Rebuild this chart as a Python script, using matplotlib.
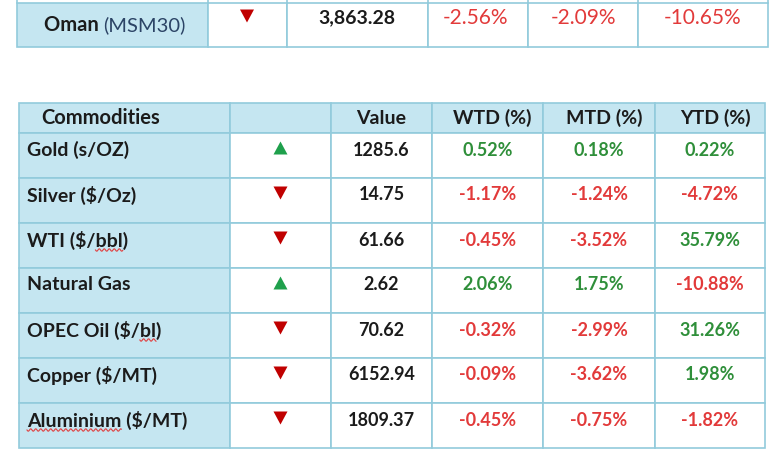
import matplotlib
matplotlib.use('Agg')
import matplotlib.pyplot as plt
from matplotlib.patches import Rectangle, Polygon
import numpy as np

# ---- data ----
oman_name = 'Oman'
oman_index = '(MSM30)'
oman_dir = 'down'
oman_value = '3,863.28'
oman_pct = ['-2.56%', '-2.09%', '-10.65%']

headers = ['Commodities', '', 'Value', 'WTD (%)', 'MTD (%)', 'YTD (%)']
commodities = ['Gold (s/OZ)', 'Silver ($/Oz)', 'WTI ($/bbl)', 'Natural Gas',
               'OPEC Oil ($/bl)', 'Copper ($/MT)', 'Aluminium ($/MT)']
direction = ['up', 'down', 'down', 'up', 'down', 'down', 'down']
values = ['1285.6', '14.75', '61.66', '2.62', '70.62', '6152.94', '1809.37']
wtd = [0.52, -1.17, -0.45, 2.06, -0.32, -0.09, -0.45]
mtd = [0.18, -1.24, -3.52, 1.75, -2.99, -3.62, -0.75]
ytd = [0.22, -4.72, 35.79, -10.88, 31.26, 1.98, -1.82]
# words flagged by the spell checker (red wavy underline)
squiggle = {'WTI ($/bbl)': 'bbl', 'OPEC Oil ($/bl)': 'bl', 'Aluminium ($/MT)': 'Aluminium'}

# ---- layout (pixels) ----
W, H = 780, 470
BLUE = '#c5e6f1'
GRID = '#92cbdc'
GREEN = '#2f8f3a'
RED = '#e23a3a'
UP = '#1fa04c'
DOWN = '#c00000'
INK = '#1b1b1b'
FONT = 'Lato'

top_cols = [17, 208, 287, 428, 528, 638, 768]
top_rows = [3, 47]
bot_cols = [19, 230, 331, 432, 543, 655, 765]
bot_rows = [103, 133] + [133 + 45 * (i + 1) for i in range(len(commodities))]

fig = plt.figure(figsize=(W / 100, H / 100), dpi=100)
ax = fig.add_axes([0, 0, 1, 1])
ax.set_xlim(0, W)
ax.set_ylim(H, 0)
ax.axis('off')
renderer = fig.canvas.get_renderer()


def cell(x0, x1, y0, y1, fill):
    ax.add_patch(Rectangle((x0, y0), x1 - x0, y1 - y0, facecolor=fill,
                           edgecolor=GRID, linewidth=1.2))


def arrow(xc, yc, kind):
    w, h = 14, 13
    if kind == 'up':
        pts = [(xc - w / 2, yc + h / 2), (xc + w / 2, yc + h / 2), (xc, yc - h / 2)]
        c = UP
    else:
        pts = [(xc - w / 2, yc - h / 2), (xc + w / 2, yc - h / 2), (xc, yc + h / 2)]
        c = DOWN
    ax.add_patch(Polygon(pts, closed=True, facecolor=c, edgecolor='none'))


def text_width(s, **kw):
    t = ax.text(0, 0, s, **kw)
    w = t.get_window_extent(renderer).width
    t.remove()
    return w


def pct_text(v):
    return '{:.2f}%'.format(v)


def pct_color(v):
    return GREEN if v >= 0 else RED


# top table (partial, cut off at top)
for j in range(len(top_cols) - 1):
    cell(top_cols[j], top_cols[j + 1], top_rows[0], top_rows[1],
         BLUE if j == 0 else 'white')
for xe in top_cols:
    ax.plot([xe, xe], [0, top_rows[0]], color=GRID, lw=1.2)

name_kw = dict(fontsize=14.5, fontweight='bold', family=FONT)
idx_kw = dict(fontsize=14.5, family=FONT)
wn = text_width(oman_name + ' ', **name_kw)
wi = text_width(oman_index, **idx_kw)
x0 = 115 - (wn + wi) / 2
ax.text(x0, 25, oman_name + ' ', ha='left', va='center', color=INK, **name_kw)
ax.text(x0 + wn, 25, oman_index, ha='left', va='center', color='#2c4466', **idx_kw)
arrow(247, 16, oman_dir)
ax.text(357, 18, oman_value, ha='center', va='center', fontsize=14,
        fontweight='bold', family=FONT, color=INK)
for xc, s in zip([476, 583, 703], oman_pct):
    ax.text(xc, 18, s, ha='center', va='center', fontsize=15,
            family=FONT, color=RED)

# bottom table
for i in range(len(bot_rows) - 1):
    for j in range(len(bot_cols) - 1):
        fill = BLUE if (i == 0 or j == 0) else 'white'
        cell(bot_cols[j], bot_cols[j + 1], bot_rows[i], bot_rows[i + 1], fill)

centers = [(bot_cols[j] + bot_cols[j + 1]) / 2 for j in range(len(bot_cols) - 1)]
hy = (bot_rows[0] + bot_rows[1]) / 2
ax.text(41, hy, headers[0], ha='left', va='center', fontsize=14.5,
        fontweight='bold', family=FONT, color=INK)
for j in range(2, 6):
    ax.text(centers[j] + (0 if j == 2 else 5), hy, headers[j], ha='center',
            va='center', fontsize=14, fontweight='bold', family=FONT, color=INK)

label_kw = dict(fontsize=14, fontweight='bold', family=FONT)
for i, name in enumerate(commodities):
    y = bot_rows[i + 1] + 17
    ax.text(27, y, name, ha='left', va='center', color=INK, **label_kw)
    if name in squiggle:
        word = squiggle[name]
        pre = name[:name.index(word)]
        sx0 = 27 + (text_width(pre, **label_kw) if pre else 0)
        sw = text_width(word, **label_kw)
        xs = np.linspace(sx0, sx0 + sw, int(sw) * 2)
        ax.plot(xs, y + 10 + 1.2 * np.sin((xs - sx0) * np.pi / 2.5),
                color='#e04040', lw=0.8)
    arrow(centers[1], y - 2, direction[i])
    ax.text(centers[2], y, values[i], ha='center', va='center', fontsize=13,
            fontweight='bold', family=FONT, color=INK)
    for j, arr in zip([3, 4, 5], [wtd, mtd, ytd]):
        v = arr[i]
        ax.text(centers[j], y, pct_text(v), ha='center', va='center',
                fontsize=13, fontweight='bold', family=FONT, color=pct_color(v))

plt.savefig('out.png', dpi=100)
